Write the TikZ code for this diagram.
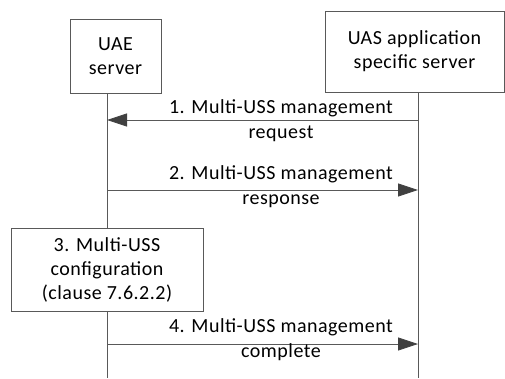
\documentclass[tikz,border=0pt]{standalone}
\usepackage{fontspec}
\setmainfont[LetterSpace=2.5]{Carlito}
\usetikzlibrary{arrows.meta}
\definecolor{linegray}{gray}{0.35}
\definecolor{headgray}{gray}{0.25}

\begin{document}
\begin{tikzpicture}[x=1pt, y=-1pt, line join=miter]

    % lifeline positions and the height of the picture
    \pgfmathsetmacro{\xuae}{107}
    \pgfmathsetmacro{\xuas}{418}
    \pgfmathsetmacro{\xlbl}{281}

    \tikzset{%
      entity/.style  = {draw=linegray, line width=0.8pt, align=center,
                        inner sep=0pt, font=\fontsize{20}{24}\selectfont},
      lifeline/.style = {draw=linegray, line width=0.8pt},
      msg/.style     = {draw=linegray, line width=0.8pt,
                        -{Triangle[length=20pt, width=13pt, fill=headgray, color=headgray]}},
      msglabel/.style = {align=center, inner sep=0pt,
                        font=\fontsize{20}{25}\selectfont}
    }

    \useasboundingbox (0,0) rectangle (505,378);

    % the two entities
    \node[entity, minimum width=91pt, minimum height=74pt] (uae)
      at (115.5,56) {UAE\\server};
    \node[entity, minimum width=179pt, minimum height=81pt] (uas)
      at (414.5,51.5) {UAS application\\specific server};

    % local step on the UAE server
    \node[entity, minimum width=192pt, minimum height=83pt] (config)
      at (\xuae,269.5) {3. Multi-USS\\configuration\\(clause 7.6.2.2)};

    % lifelines
    \coordinate (uaetop) at (\xuae,93);
    \coordinate (uaebot) at (\xuae,378);
    \coordinate (uastop) at (\xuas,92);
    \coordinate (uasbot) at (\xuas,378);
    \draw[lifeline] (uaetop) -- (config.north -| uaetop);
    \draw[lifeline] (config.south -| uaetop) -- (uaebot);
    \draw[lifeline] (uastop) -- (uasbot);

    % messages
    \coordinate (m1) at (\xuae,120);
    \coordinate (m2) at (\xuae,190);
    \coordinate (m4) at (\xuae,344);
    \draw[msg] (m1 -| uastop) -- (m1);
    \draw[msg] (m2) -- (m2 -| uastop);
    \draw[msg] (m4) -- (m4 -| uastop);

    \node[msglabel] (l1) at (\xlbl,121) {1. Multi-USS management\\request};
    \node[msglabel] (l2) at (\xlbl,187) {2. Multi-USS management\\response};
    \node[msglabel] (l4) at (\xlbl,340) {4. Multi-USS management\\complete};

\end{tikzpicture}
\end{document}
